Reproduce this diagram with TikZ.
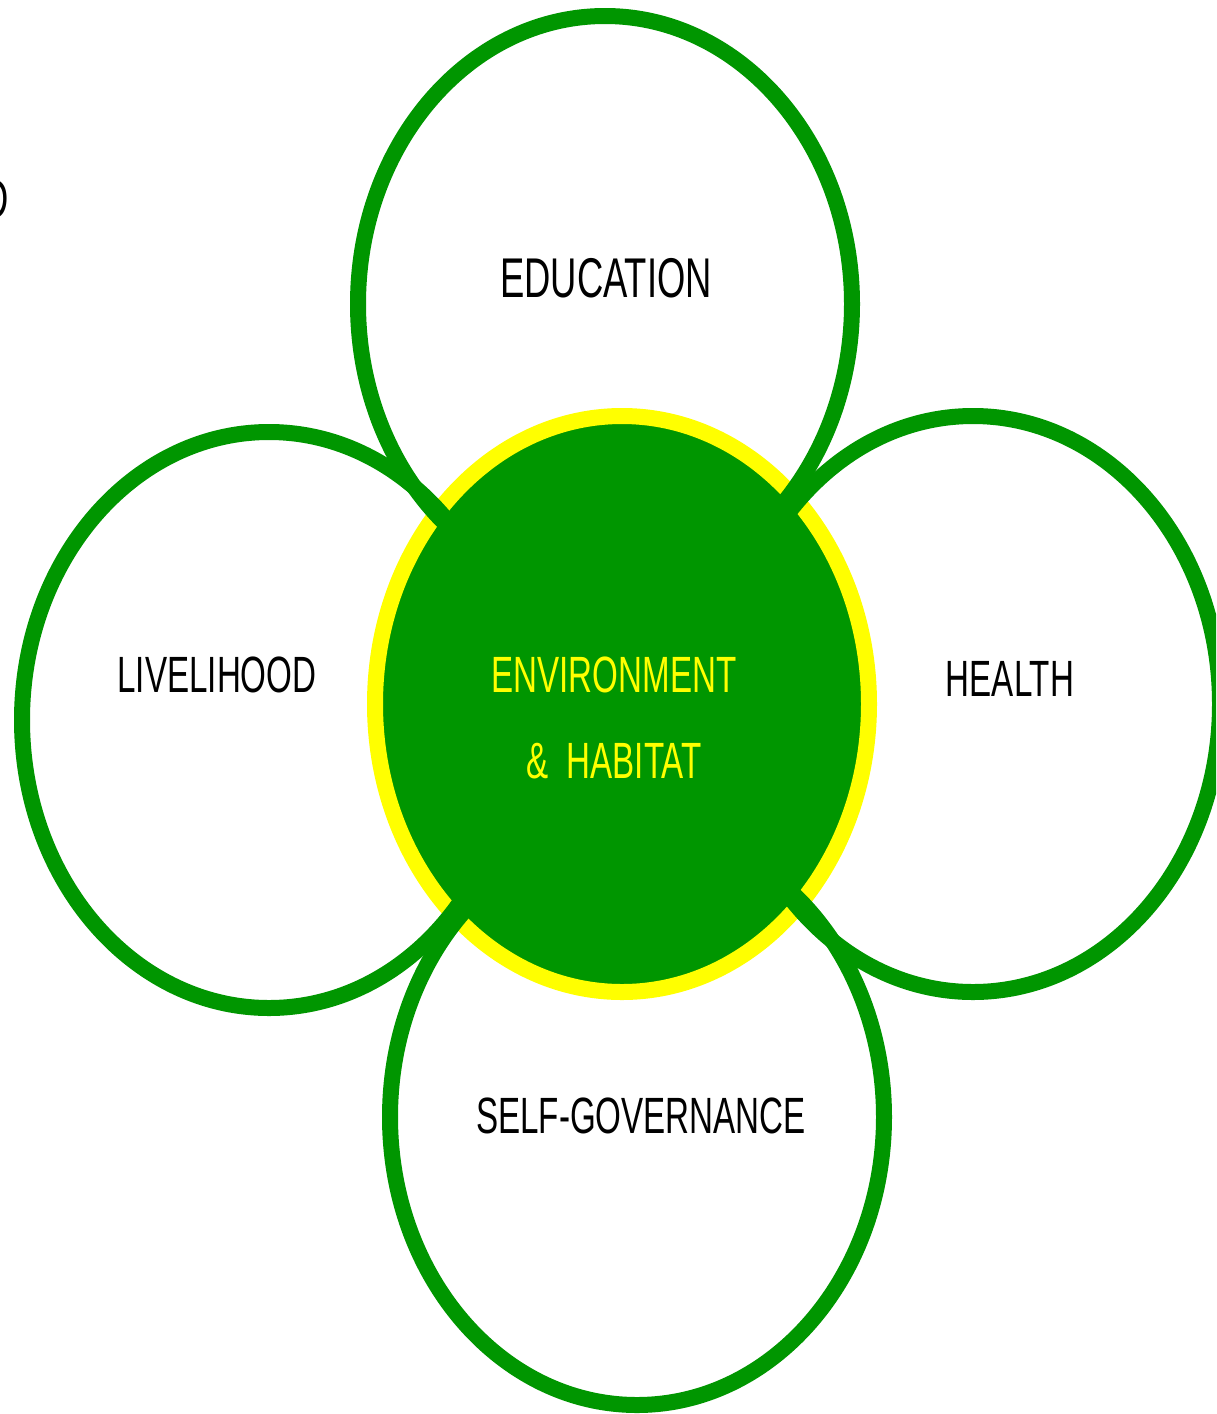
\documentclass[tikz,border=0pt]{standalone}
\usepackage{fontspec}
\newfontfamily\cond[FakeStretch=0.65]{Liberation Sans}
\definecolor{leaf}{RGB}{0,150,0}
\definecolor{sun}{RGB}{255,255,0}
\begin{document}
\begin{tikzpicture}[x=1pt,y=-1pt,
  petal/.style={draw=leaf,line width=16pt},
  core/.style={draw=sun,fill=leaf,line width=16pt},
  lbl/.style={font=\cond\fontsize{51}{51}\selectfont,text=black,inner sep=0pt,anchor=base},
  biglbl/.style={lbl,font=\cond\fontsize{56}{56}\selectfont},
  corelbl/.style={lbl,text=sun}]
\useasboundingbox (0,0) rectangle (1216,1414);
\clip (0,0) rectangle (1216,1414);
\fill[white] (0,0) rectangle (1216,1414);
% centre
\draw[core] (622,704) ellipse [x radius=247,y radius=288];
% petals
\draw[petal] (605,304) ellipse [x radius=247,y radius=288];
\draw[petal] (269,720) ellipse [x radius=247,y radius=288];
\draw[petal] (973,704) ellipse [x radius=247,y radius=288];
\draw[petal] (637,1117) ellipse [x radius=247,y radius=288];
% labels
\node[biglbl] (edu) at (606,297) {EDUCATION};
\node[lbl] (live) at (217,692) {LIVELIHOOD};
\node[lbl] (health) at (1010,696) {HEALTH};
\node[lbl] (self) at (641,1133) {SELF-GOVERNANCE};
\node[corelbl] (env) at (614,692) {ENVIRONMENT};
\node[corelbl] (hab) at (614,778) {\&~~HABITAT};
\node[biglbl,anchor=base east] (frag) at (9,218) {D};
\end{tikzpicture}
\end{document}
